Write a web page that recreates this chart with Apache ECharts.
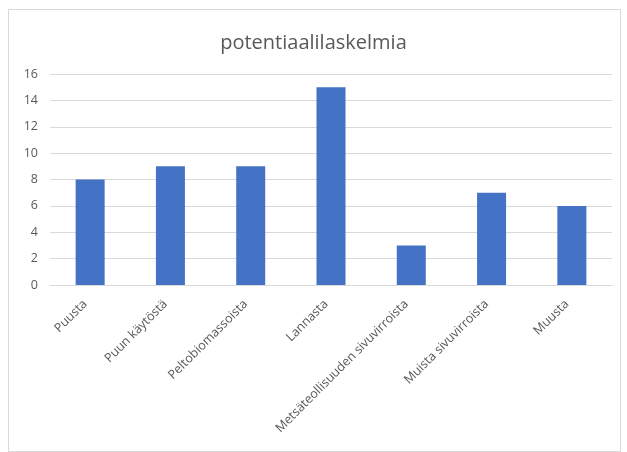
<!DOCTYPE html>
<html><head><meta charset="utf-8">
<script src="https://cdn.jsdelivr.net/npm/echarts@6/dist/echarts.min.js"></script>
<style>
html,body{margin:0;padding:0;background:#fff;}
#frame{position:absolute;left:8px;top:9px;width:611px;height:441px;border:1px solid #d9d9d9;}
#c{position:absolute;left:0;top:0;width:627px;height:452px;}
</style></head>
<body>
<div id="frame"></div>
<div id="c"></div>
<script>
const categories = ["Puusta","Puun käytöstä","Peltobiomassoista","Lannasta","Metsäteollisuuden sivuvirroista","Muista sivuvirroista","Muusta"];
const values = [8, 9, 9, 15, 3, 7, 6];
const chartTitle = "potentiaalilaskelmia";

const chart = echarts.init(document.getElementById('c'));
chart.setOption({
  animation:false,
  title:{text:chartTitle,left:'center',top:28,textStyle:{fontFamily:'Open Sans',fontSize:20,fontWeight:'normal',color:'#595959'}},
  grid:{left:50,right:15,top:74,bottom:167,containLabel:false},
  xAxis:{type:'category',data:categories,
    axisLine:{lineStyle:{color:'#d9d9d9'}},axisTick:{show:false},
    axisLabel:{rotate:45,interval:0,color:'#595959',fontFamily:'Open Sans',fontSize:12.5,margin:12,padding:[0,7,0,0]}},
  yAxis:{type:'value',min:0,max:16,interval:2,
    axisLine:{show:false},axisTick:{show:false},
    splitLine:{lineStyle:{color:'#d9d9d9'}},
    axisLabel:{color:'#595959',fontFamily:'Open Sans',fontSize:12.5,margin:12}},
  series:[{type:'bar',data:values,barWidth:29,itemStyle:{color:'#4472C4'}}]
});
</script>
</body></html>
